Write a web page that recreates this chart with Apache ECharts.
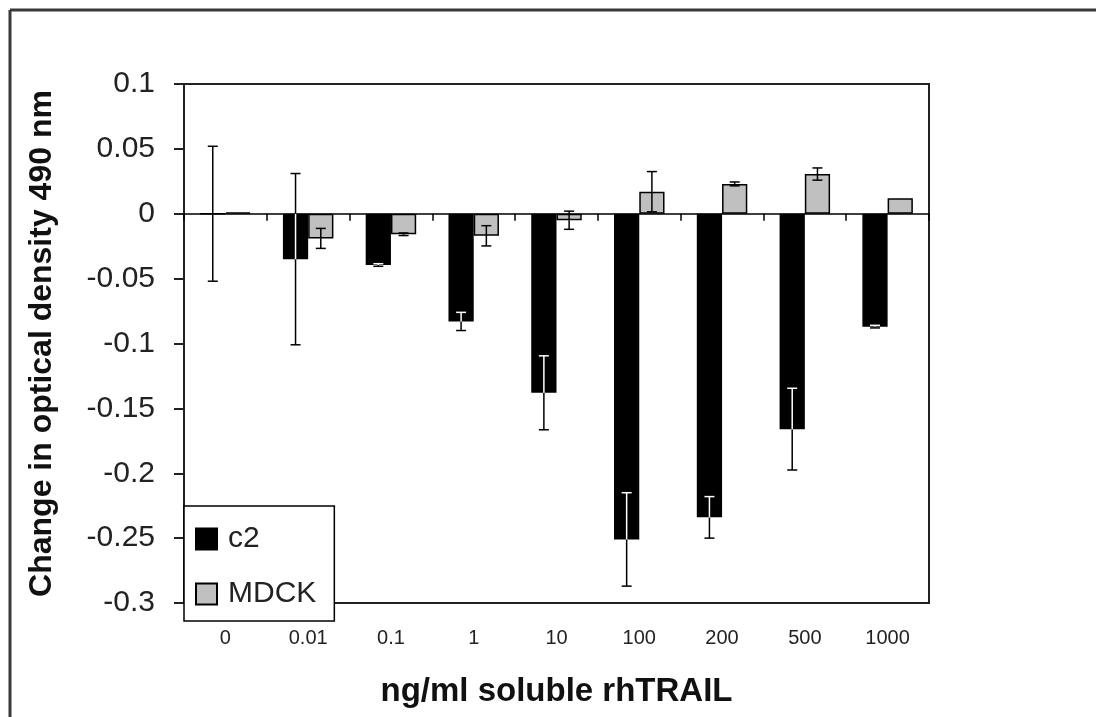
<!DOCTYPE html>
<html>
<head>
<meta charset="utf-8">
<script src="https://cdn.jsdelivr.net/npm/echarts@6/dist/echarts.min.js"></script>
<style>html,body{margin:0;padding:0;background:#fff;overflow:hidden;}#chart{width:1096px;height:717px;}</style>
</head>
<body>
<div id="chart"></div>
<script>
const categories = ['0', '0.01', '0.1', '1', '10', '100', '200', '500', '1000'];
const c2Values = [0, -0.035, -0.0395, -0.083, -0.138, -0.251, -0.234, -0.166, -0.087];
const c2Errors = [0.052, 0.066, 0.001, 0.007, 0.0285, 0.036, 0.016, 0.0315, 0.001];
const mdckValues = [0.001, -0.019, -0.0158, -0.017, -0.005, 0.017, 0.023, 0.0306, 0.012];
const mdckErrors = [0, 0.0077, 0.001, 0.0078, 0.007, 0.0155, 0.0015, 0.0047, 0];
const yMin = -0.3, yMax = 0.1, yStep = 0.05;

const FONT = "'Liberation Sans', Arial, sans-serif";
const CAT_GAP = 0.39;

function errorSeries(name, seriesIdx, vals, errs, insideWhite) {
  return {
    type: 'custom',
    name: name + ' error',
    xAxisIndex: 0,
    yAxisIndex: 0,
    z: 10,
    silent: true,
    data: vals.map((v, i) => [i, v, errs[i]]),
    renderItem: function (params, api) {
      const i = api.value(0), v = api.value(1), e = api.value(2);
      if (!e) return null;
      const band = api.size([1, 0])[0];
      const bw = band * (1 - CAT_GAP) / 2;
      const x = api.coord([i, 0])[0] + (seriesIdx === 0 ? -1 : 1) * bw / 2;
      const lo = v - e, hi = v + e;
      const barLo = Math.min(v, 0), barHi = Math.max(v, 0);
      const inside = (val) => insideWhite && barHi > barLo && val > barLo + 1e-9 && val < barHi - 1e-9;
      const pts = [lo];
      [v, 0].forEach(b => { if (b > lo && b < hi && pts.indexOf(b) < 0) pts.push(b); });
      pts.push(hi);
      pts.sort((a, b) => a - b);
      const children = [];
      for (let k = 0; k < pts.length - 1; k++) {
        const mid = (pts[k] + pts[k + 1]) / 2;
        children.push({
          type: 'line',
          shape: { x1: x, y1: api.coord([i, pts[k]])[1], x2: x, y2: api.coord([i, pts[k + 1]])[1] },
          style: { stroke: inside(mid) ? '#fff' : '#000', lineWidth: 1.5 }
        });
      }
      [lo, hi].forEach(val => {
        const y = api.coord([i, val])[1];
        children.push({
          type: 'line',
          shape: { x1: x - 5, y1: y, x2: x + 5, y2: y },
          style: { stroke: inside(val) ? '#fff' : '#000', lineWidth: 1.5 }
        });
      });
      return { type: 'group', children: children };
    }
  };
}

const chart = echarts.init(document.getElementById('chart'), null, { renderer: 'canvas' });
chart.setOption({
  backgroundColor: '#fff',
  animation: false,
  textStyle: { fontFamily: FONT },
  graphic: [{
    type: 'line',
    shape: { x1: 10, y1: 10, x2: 1096, y2: 10 },
    style: { stroke: '#3a3a3a', lineWidth: 3 },
    z: 100
  }, {
    type: 'line',
    shape: { x1: 10, y1: 10, x2: 10, y2: 717 },
    style: { stroke: '#3a3a3a', lineWidth: 3 },
    z: 100
  }],
  grid: {
    left: 184, right: 167, top: 84, bottom: 114,
    show: true, borderColor: '#222', borderWidth: 2, backgroundColor: '#fff'
  },
  legend: {
    orient: 'vertical',
    left: 184, top: 506,
    data: ['c2', 'MDCK'],
    icon: 'rect',
    itemWidth: 21, itemHeight: 21, itemGap: 25,
    padding: [18, 18, 12, 11],
    borderColor: '#000', borderWidth: 1.5,
    backgroundColor: '#fff',
    textStyle: { fontFamily: FONT, fontSize: 30, color: '#222', padding: [0, 0, 0, 6] }
  },
  xAxis: [{
    type: 'category',
    data: categories,
    position: 'bottom',
    axisLine: { onZero: false, show: true, lineStyle: { color: '#222', width: 2 } },
    axisTick: { show: false },
    axisLabel: { fontFamily: FONT, fontSize: 20, color: '#222', margin: 25 },
    name: 'ng/ml soluble rhTRAIL',
    nameLocation: 'middle',
    nameGap: 72,
    nameTextStyle: { fontFamily: FONT, fontSize: 33, fontWeight: 'bold', color: '#111' }
  }, {
    type: 'category',
    data: categories,
    position: 'bottom',
    axisLine: { onZero: true, show: true, lineStyle: { color: '#000', width: 1.5 } },
    axisTick: { show: true, length: 7, lineStyle: { color: '#000', width: 1.5 } },
    axisLabel: { show: false }
  }],
  yAxis: {
    type: 'value',
    min: yMin, max: yMax, interval: yStep,
    axisLine: { show: true, lineStyle: { color: '#222', width: 2 } },
    axisTick: { show: true, length: 10, lineStyle: { color: '#222', width: 2 } },
    splitLine: { show: false },
    axisLabel: { fontFamily: FONT, fontSize: 30, color: '#222', margin: 29 },
    name: 'Change in optical density 490 nm',
    nameLocation: 'middle',
    nameRotate: 90,
    nameGap: 126,
    nameTextStyle: { fontFamily: FONT, fontSize: 32, fontWeight: 'bold', color: '#111' }
  },
  series: [{
    name: 'c2',
    type: 'bar',
    xAxisIndex: 0,
    data: c2Values,
    barGap: '0%',
    barCategoryGap: (CAT_GAP * 100) + '%',
    itemStyle: { color: '#000', borderColor: '#000', borderWidth: 1.5 }
  }, {
    name: 'MDCK',
    type: 'bar',
    xAxisIndex: 0,
    data: mdckValues,
    itemStyle: { color: '#c0c0c0', borderColor: '#000', borderWidth: 1.5 }
  },
  errorSeries('c2', 0, c2Values, c2Errors, true),
  errorSeries('MDCK', 1, mdckValues, mdckErrors, false)
  ]
});
</script>
</body>
</html>
